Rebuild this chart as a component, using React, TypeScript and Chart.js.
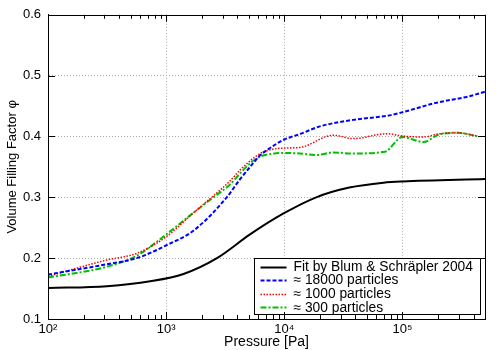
import React, { useEffect, useRef } from "react";
import { Chart, registerables } from "chart.js";

Chart.register(...registerables);

// ---------- data ----------
const fitPressure = [100, 316, 733, 1403, 2692, 5129, 9772, 18621, 35481, 69183, 100000, 500000];
const fitPhi = [0.151, 0.154, 0.162, 0.174, 0.2, 0.239, 0.273, 0.3, 0.316, 0.324, 0.326, 0.33];

const p18000Pressure = [100, 315, 565, 782, 1000, 1700, 3260, 4230, 5140, 6240, 7570, 10000, 13580, 20000, 38300, 74000, 100000, 190000, 366000, 500000];
const p18000Phi = [0.173, 0.19, 0.2, 0.211, 0.221, 0.245, 0.3, 0.33, 0.35, 0.369, 0.381, 0.395, 0.404, 0.4166, 0.4273, 0.434, 0.4398, 0.455, 0.466, 0.4735];

const p1000Pressure = [100, 315, 565, 1000, 1700, 2430, 3475, 4230, 5140, 6240, 7570, 10000, 13580, 25950, 38300, 74000, 100000, 150000, 207000, 296000, 430000];
const p1000Phi = [0.17, 0.197, 0.208, 0.235, 0.2745, 0.3, 0.327, 0.345, 0.36, 0.372, 0.378, 0.381, 0.382, 0.402, 0.3965, 0.4046, 0.4008, 0.399, 0.4046, 0.406, 0.4008];

const p300Pressure = [100, 315, 565, 1000, 1700, 2430, 3475, 4230, 5140, 6240, 7570, 10000, 13580, 18800, 25950, 38300, 71000, 100000, 150000, 207000, 296000, 430000];
const p300Phi = [0.168, 0.186, 0.204, 0.239, 0.2745, 0.298, 0.321, 0.3395, 0.356, 0.367, 0.371, 0.373, 0.372, 0.3695, 0.3737, 0.372, 0.375, 0.399, 0.391, 0.4036, 0.406, 0.4004];

const seriesLabels = ["Fit by Blum & Schräpler 2004", "≈ 18000 particles", "≈ 1000 particles", "≈ 300 particles"];

const xMin = 100;
const xMax = 500000;
const yMin = 0.1;
const yMax = 0.6;
const yTicks = [0.1, 0.2, 0.3, 0.4, 0.5, 0.6];
const xTickValues = [
  100, 200, 300, 400, 500, 600, 700, 800, 900,
  1000, 2000, 3000, 4000, 5000, 6000, 7000, 8000, 9000,
  10000, 20000, 30000, 40000, 50000, 60000, 70000, 80000, 90000,
  100000, 200000, 300000, 400000, 500000,
];
const superscripts: Record<string, string> = { "2": "²", "3": "³", "4": "⁴", "5": "⁵" };

const FONT = "'Liberation Sans', Arial, Helvetica, sans-serif";

const pts = (xs: number[], ys: number[]) => xs.map((x, i) => ({ x, y: ys[i] }));
const isPow10 = (v: number) => {
  const l = Math.log10(v);
  return Math.abs(l - Math.round(l)) < 1e-9;
};

const frameAndTicks = {
  id: "frameAndTicks",
  afterDraw(chart: any) {
    const { ctx, chartArea: a, scales } = chart;
    const xs = scales.x;
    const ys = scales.y;
    ctx.save();
    ctx.strokeStyle = "#000";
    ctx.lineWidth = 1;
    ctx.setLineDash([]);
    ctx.beginPath();
    for (const v of xTickValues) {
      const px = Math.round(xs.getPixelForValue(v)) + 0.5;
      const len = isPow10(v) ? 7 : 4;
      ctx.moveTo(px, a.bottom);
      ctx.lineTo(px, a.bottom - len);
      ctx.moveTo(px, a.top);
      ctx.lineTo(px, a.top + len);
    }
    for (const v of yTicks) {
      const py = Math.round(ys.getPixelForValue(v)) + 0.5;
      ctx.moveTo(a.left, py);
      ctx.lineTo(a.left + 7, py);
      ctx.moveTo(a.right, py);
      ctx.lineTo(a.right - 7, py);
    }
    ctx.stroke();
    ctx.strokeRect(Math.round(a.left) + 0.5, Math.round(a.top) + 0.5, Math.round(a.right - a.left), Math.round(a.bottom - a.top));
    ctx.restore();
  },
};

const insideLegend = {
  id: "insideLegend",
  afterDatasetsDraw(chart: any) {
    const { ctx, chartArea: a } = chart;
    const boxW = 226;
    const boxH = 56;
    const right = Math.round(a.right - 5) + 0.5;
    const bottom = Math.round(a.bottom - 5) + 0.5;
    const left = right - boxW;
    const top = bottom - boxH;
    ctx.save();
    ctx.fillStyle = "#fff";
    ctx.fillRect(left, top, boxW, boxH);
    ctx.strokeStyle = "#000";
    ctx.lineWidth = 1;
    ctx.setLineDash([]);
    ctx.strokeRect(left, top, boxW, boxH);
    ctx.font = `13.8px ${FONT}`;
    ctx.textBaseline = "middle";
    ctx.textAlign = "left";
    chart.data.datasets.forEach((ds: any, i: number) => {
      const cy = top + 8 + i * 13.6;
      ctx.save();
      ctx.strokeStyle = ds.borderColor;
      ctx.lineWidth = ds.borderWidth;
      ctx.setLineDash(ds.borderDash || []);
      ctx.beginPath();
      ctx.moveTo(left + 6, Math.round(cy) + 0.5);
      ctx.lineTo(left + 32, Math.round(cy) + 0.5);
      ctx.stroke();
      ctx.restore();
      ctx.fillStyle = "#000";
      ctx.fillText(ds.label, left + 39, cy + 0.5);
    });
    ctx.restore();
  },
};

export default function App() {
  const ref = useRef<HTMLCanvasElement | null>(null);

  useEffect(() => {
    if (!ref.current) return;
    const chart = new Chart(ref.current, {
      type: "line",
      data: {
        datasets: [
          {
            label: seriesLabels[0],
            data: pts(fitPressure, fitPhi),
            borderColor: "#000000",
            borderWidth: 2,
            borderDash: [],
            pointRadius: 0,
            cubicInterpolationMode: "monotone",
          },
          {
            label: seriesLabels[1],
            data: pts(p18000Pressure, p18000Phi),
            borderColor: "#0000ff",
            borderWidth: 2,
            borderDash: [4, 2],
            pointRadius: 0,
            cubicInterpolationMode: "monotone",
          },
          {
            label: seriesLabels[2],
            data: pts(p1000Pressure, p1000Phi),
            borderColor: "#ff0000",
            borderWidth: 1.5,
            borderDash: [1.5, 1.5],
            pointRadius: 0,
            cubicInterpolationMode: "monotone",
          },
          {
            label: seriesLabels[3],
            data: pts(p300Pressure, p300Phi),
            borderColor: "#00c000",
            borderWidth: 2,
            borderDash: [6, 2, 2, 2],
            pointRadius: 0,
            cubicInterpolationMode: "monotone",
          },
        ],
      },
      options: {
        responsive: false,
        animation: false,
        devicePixelRatio: 1,
        layout: { padding: { left: 0, top: 12, right: 15, bottom: 0 } },
        plugins: {
          legend: { display: false },
          tooltip: { enabled: false },
        },
        scales: {
          x: {
            type: "logarithmic",
            min: xMin,
            max: xMax,
            afterBuildTicks: (scale: any) => {
              scale.ticks = xTickValues.map((v) => ({ value: v, major: isPow10(v) }));
            },
            afterFit: (scale: any) => {
              scale.height = 31;
            },
            ticks: {
              autoSkip: false,
              maxRotation: 0,
              padding: 3,
              color: "#000",
              font: { family: FONT, size: 13 },
              callback: (value: any) => {
                const v = Number(value);
                if (!isPow10(v)) return "";
                const e = String(Math.round(Math.log10(v)));
                return "10" + (superscripts[e] || e);
              },
            },
            grid: {
              drawTicks: false,
              lineWidth: 1,
              color: (c: any) => {
                const v = c.tick ? c.tick.value : 0;
                return isPow10(v) && v !== xMin ? "#aaaaaa" : "rgba(0,0,0,0)";
              },
            },
            border: { display: true, color: "#000", width: 1, dash: [1, 2] },
            title: {
              display: true,
              text: "Pressure [Pa]",
              color: "#000",
              font: { family: FONT, size: 14, lineHeight: 1 },
              padding: { top: 0, bottom: 0.5 },
            },
          },
          y: {
            type: "linear",
            min: yMin,
            max: yMax,
            afterBuildTicks: (scale: any) => {
              scale.ticks = yTicks.map((v) => ({ value: v }));
            },
            afterFit: (scale: any) => {
              scale.width = 48;
            },
            ticks: {
              padding: 7,
              color: "#000",
              font: { family: FONT, size: 13 },
              callback: (value: any) => Number(value).toFixed(1),
            },
            grid: {
              drawTicks: false,
              lineWidth: 1,
              color: (c: any) => {
                const v = c.tick ? c.tick.value : 0;
                return Math.abs(v - yMin) > 1e-6 && Math.abs(v - yMax) > 1e-6 ? "#aaaaaa" : "rgba(0,0,0,0)";
              },
            },
            border: { display: true, color: "#000", width: 1, dash: [1, 2] },
            title: {
              display: true,
              text: "Volume Filling Factor φ",
              color: "#000",
              font: { family: FONT, size: 13, lineHeight: 1.2 },
              padding: { top: 5, bottom: 0 },
            },
          },
        },
      },
      plugins: [insideLegend, frameAndTicks],
    } as any);
    return () => chart.destroy();
  }, []);

  return (
    <div style={{ position: "fixed", left: 0, top: 0, width: 500, height: 350, background: "#fff" }}>
      <canvas ref={ref} width={500} height={350} style={{ display: "block" }} />
    </div>
  );
}
